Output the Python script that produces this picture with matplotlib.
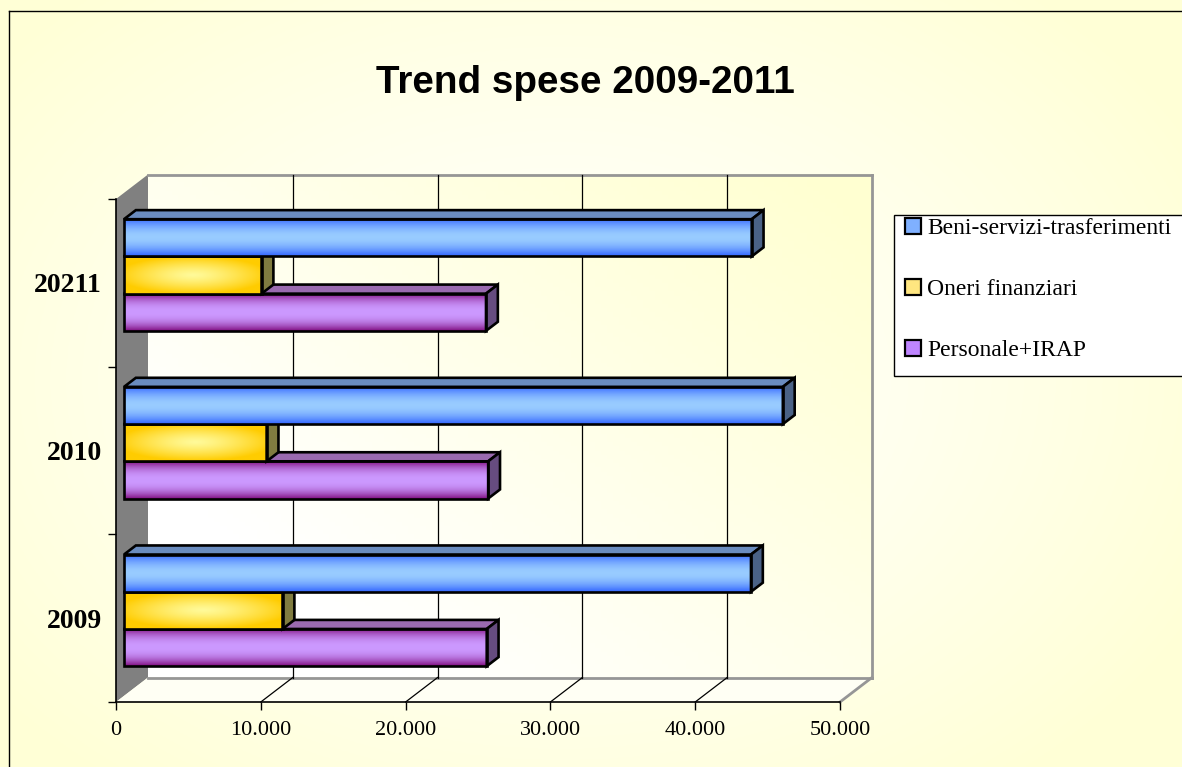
import numpy as np
import matplotlib.pyplot as plt
from matplotlib.patches import Polygon, Rectangle
from matplotlib.lines import Line2D
from matplotlib.ticker import FuncFormatter

plt.rcParams['font.family'] = ['Liberation Serif', 'DejaVu Serif']

# Spese per anno (euro)
categories = ['2009', '2010', '20211']
series = ['Beni-servizi-trasferimenti', 'Oneri finanziari', 'Personale+IRAP']
beni = [43300, 45500, 43350]
oneri = [10950, 9850, 9500]
personale = [25050, 25150, 25000]

W, H = 1182, 767
XMAX = 50000
fig = plt.figure(figsize=(W / 100, H / 100), dpi=100)

# sfondo: sfumatura crema -> bianco dal centro
bg = fig.add_axes([0, 0, 1, 1], zorder=-10)
yy, xx = np.mgrid[0:H:2, 0:W:2]
r = np.clip(np.hypot((xx - 560) / 720, (yy - 380) / 520), 0, 1)
white = np.array([1.0, 1.0, 1.0])
cream = np.array([1.0, 1.0, 0.84])
bg.imshow(white + (cream - white) * (r ** 1.2)[..., None], extent=(0, 1, 0, 1), aspect='auto')
bg.set_xlim(0, 1)
bg.set_ylim(0, 1)
bg.axis('off')

# bordo del grafico
fig.add_artist(Line2D([9 / W, 9 / W], [0, 1 - 11 / H], transform=fig.transFigure, color='black', lw=1))
fig.add_artist(Line2D([9 / W, 1], [1 - 11 / H, 1 - 11 / H], transform=fig.transFigure, color='black', lw=1))

ax = fig.add_axes([116 / W, (H - 702) / H, 724 / W, 503 / H])
ax.set_xlim(0, XMAX)
ax.set_ylim(0, 3)
ax.set_autoscale_on(False)
ax.patch.set_visible(False)

# profondita' 3D in unita' dati
DX = 32 * XMAX / 724
DY = 24.5 * 3 / 503

# parete di fondo
u, v = np.meshgrid(np.linspace(0, 1, 120), np.linspace(0, 1, 120))
t = np.clip((u * 0.7 + v * 0.6) - 0.25, 0, 1)
wall_col = np.array([1.0, 1.0, 0.82])
ax.imshow(white + (wall_col - white) * t[..., None], origin='lower',
          extent=(DX, XMAX + DX, DY, 3 + DY), aspect='auto', zorder=0, clip_on=False)
# parete laterale e pavimento
ax.add_patch(Polygon([(0, 0), (DX, DY), (DX, 3 + DY), (0, 3)], closed=True,
                     facecolor='#808080', edgecolor='none', zorder=0.5, clip_on=False))
ax.add_patch(Polygon([(0, 0), (XMAX, 0), (XMAX + DX, DY), (DX, DY)], closed=True,
                     facecolor='#fffff4', edgecolor='none', zorder=0.5, clip_on=False))
wall_edge = dict(color='#969696', lw=2, zorder=0.8, clip_on=False, solid_capstyle='projecting')
ax.plot([DX, XMAX + DX], [3 + DY, 3 + DY], **wall_edge)
ax.plot([XMAX + DX, XMAX + DX], [DY, 3 + DY], **wall_edge)
ax.plot([DX, XMAX + DX], [DY, DY], **wall_edge)
ax.plot([XMAX, XMAX + DX], [0, DY], **wall_edge)

# griglia verticale sul fondo e sul pavimento
for g in range(10000, XMAX, 10000):
    ax.plot([g + DX, g + DX], [DY, 3 + DY], color='black', lw=0.9, zorder=1, clip_on=False)
    ax.plot([g, g + DX], [0, DY], color='black', lw=0.9, zorder=1, clip_on=False)


def band(edge, center, power, n=64):
    tt = np.abs(np.linspace(-1, 1, n))
    w = 1 - tt ** power
    col = np.array(edge) + (np.array(center) - np.array(edge)) * w[:, None]
    return np.repeat(col[:, None, :], 4, axis=1)


def glow(edge, center, n=64, m=160):
    ty, tx = np.meshgrid(np.linspace(-1, 1, n), np.linspace(-1, 1, m), indexing='ij')
    f = np.clip(np.sqrt((tx * 0.9) ** 2 + ty ** 2), 0, 1) ** 1.3
    return np.array(center) + (np.array(edge) - np.array(center)) * f[..., None]


styles = {
    'beni': (band((0.2, 0.4, 1.0), (0.6, 0.8, 1.0), 1.8), '#6a8cbf', '#4a6286'),
    'oneri': (glow((1.0, 0.8, 0.0), (1.0, 0.98, 0.6)), '#b0a050', '#807c40'),
    'personale': (band((0.5, 0.05, 0.5), (0.8, 0.6, 1.0), 2.2), '#9a6ab0', '#664c80'),
}

D0, D1 = 0.25, 0.62
BAR_H = 0.222


def draw_bar(y0, length, style, z):
    grad, top_col, side_col = style
    ox0, oy0 = D0 * DX, D0 * DY
    ox1, oy1 = D1 * DX, D1 * DY
    y1 = y0 + BAR_H
    edge = dict(edgecolor='black', lw=1.9, joinstyle='miter', clip_on=False)
    ax.imshow(grad, extent=(ox0, length + ox0, y0 + oy0, y1 + oy0), aspect='auto',
              interpolation='bilinear', zorder=z, clip_on=False)
    ax.add_patch(Polygon([(ox0, y1 + oy0), (length + ox0, y1 + oy0),
                          (length + ox1, y1 + oy1), (ox1, y1 + oy1)], closed=True,
                         facecolor=top_col, zorder=z + 0.1, **edge))
    ax.add_patch(Polygon([(length + ox0, y0 + oy0), (length + ox1, y0 + oy1),
                          (length + ox1, y1 + oy1), (length + ox0, y1 + oy0)], closed=True,
                         facecolor=side_col, zorder=z + 0.1, **edge))
    ax.add_patch(Rectangle((ox0, y0 + oy0), length, BAR_H, facecolor='none',
                           zorder=z + 0.2, **edge))


# dal basso verso l'alto: Personale, Oneri, Beni
for ci in range(len(categories)):
    base = ci + 0.51 - 1.5 * BAR_H
    draw_bar(base, personale[ci], styles['personale'], 3 + ci * 3)
    draw_bar(base + BAR_H, oneri[ci], styles['oneri'], 4 + ci * 3)
    draw_bar(base + 2 * BAR_H, beni[ci], styles['beni'], 5 + ci * 3)

# assi
for s in ['top', 'right']:
    ax.spines[s].set_visible(False)
for s in ['left', 'bottom']:
    ax.spines[s].set_linewidth(1.2)
    ax.spines[s].set_zorder(2)

ax.set_xticks(range(0, XMAX + 1, 10000))
ax.xaxis.set_major_formatter(FuncFormatter(lambda val, pos: f"{int(val):,}".replace(',', '.')))
ax.tick_params(axis='x', direction='out', length=6, width=1, pad=8, labelsize=16)

ax.set_yticks([0, 1, 2, 3])
ax.set_yticklabels([])
ax.set_yticks([0.5, 1.5, 2.5], minor=True)
ax.set_yticklabels(categories, minor=True, fontsize=20, fontweight='bold')
ax.tick_params(axis='y', which='major', direction='out', length=6, width=1)
ax.tick_params(axis='y', which='minor', length=0, pad=10)

# titolo
fig.text(585 / W, 1 - 93 / H, 'Trend spese 2009-2011', ha='center', va='baseline',
         fontsize=27.8, fontweight='bold', family='Liberation Sans')

# legenda
fig.add_artist(Rectangle((894 / W, 1 - 376 / H), 300 / W, 161 / H, transform=fig.transFigure,
                         facecolor='white', edgecolor='black', lw=1))
legend_cols = ['#7fb0ff', '#ffe680', '#bf85ff']
for i, (name, col) in enumerate(zip(series, legend_cols)):
    base_y = 234 + i * 61
    fig.add_artist(Rectangle((905 / W, 1 - base_y / H), 16 / W, 16 / H, transform=fig.transFigure,
                             facecolor=col, edgecolor='black', lw=1.6))
    fig.text(927 / W, 1 - base_y / H, name, ha='left', va='baseline', fontsize=17)

fig.savefig('out.png', dpi=100)
